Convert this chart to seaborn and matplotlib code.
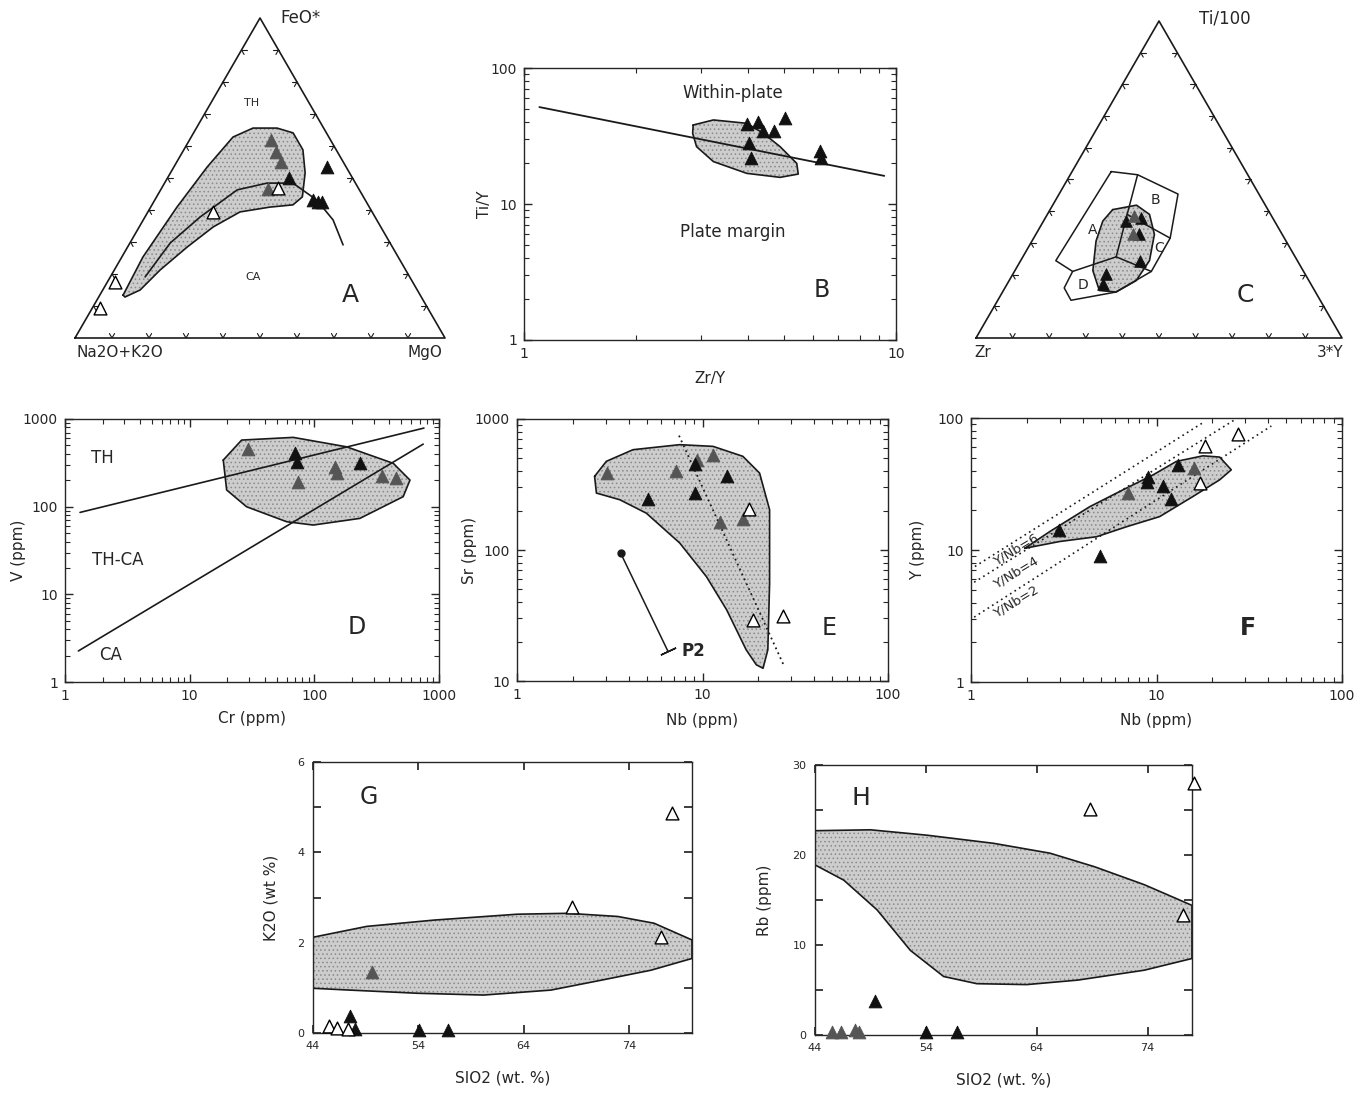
import numpy as np
import matplotlib
matplotlib.use("Agg")
import matplotlib.pyplot as plt
from matplotlib.ticker import NullFormatter
import seaborn as sns

sns.set_theme(style="ticks")
plt.rcParams["font.family"] = ["DejaVu Sans"]
plt.rcParams["hatch.linewidth"] = 0.6
plt.rcParams["axes.linewidth"] = 1.0

W, H = 1369, 1094
SQ = np.sqrt(3) / 2

# ---------------- data ----------------
# A : AFM ternary, values in % (FeO*, MgO); alkalis = remainder
a_feo_grey = [62, 58, 55, 46.6]
a_mgo_grey = [22, 25.3, 28.2, 28.9]
a_feo_black = [50, 53.4, 43.1, 42.5, 42.5]
a_mgo_black = [32.8, 41.4, 42.8, 44.4, 45.5]
a_feo_open = [46.9, 39.4, 17.5, 9.4]
a_mgo_open = [31.4, 17.6, 2.1, 2.1]
a_field_feo = [13.4, 25.3, 40.9, 53.4, 62.8, 65.6, 65.6, 64.1, 58.8, 51.6, 44.1,
               41.6, 40.9, 39.4, 34.7, 28.4, 21.3, 15.0, 12.8]
a_field_mgo = [6.3, 5.7, 7.1, 9.0, 11.3, 15.3, 21.8, 26.9, 32.2, 36.4, 39.4,
               38.1, 32.2, 24.9, 20.0, 16.1, 12.4, 10.1, 7.1]
a_curve_feo = [19.1, 29.7, 37.8, 46.3, 48.4, 48.4, 43.1, 36.9, 29.1]
a_curve_mgo = [9.4, 10.9, 14.9, 20.7, 27.7, 34.7, 43.8, 51.3, 57.9]

# B : Ti/Y vs Zr/Y
b_line_x = [1.1, 9.3]
b_line_y = [51.6, 16.1]
b_zry = [3.98, 4.26, 4.39, 4.7, 5.03, 4.03, 4.08, 6.25, 6.3]
b_tiy = [38.7, 40.0, 34.4, 34.4, 42.9, 28.1, 21.8, 24.5, 21.8]
b_field_x = [2.85, 3.23, 3.97, 4.4, 4.88, 5.41, 5.46, 4.88, 3.97, 3.23, 2.91, 2.84]
b_field_y = [38.1, 41.5, 39.2, 33.1, 26.4, 19.9, 16.6, 15.7, 16.8, 20.5, 26.4, 33.1]

# C : Ti/100 - Zr - 3*Y ternary, values in % (Ti, 3Y); Zr = remainder
c_outer_ti = [52.5, 51.5, 45.4, 31.5, 21.0, 14.5, 11.9, 15.8, 21.0, 24.4]
c_outer_y = [10.7, 18.4, 32.5, 37.3, 37.4, 31.0, 20.0, 16.2, 15.9, 9.6]
c_ab_ti = [51.5, 39.0, 25.6]
c_ab_y = [18.4, 21.8, 25.5]
c_ad_ti = [25.6, 21.0]
c_ad_y = [25.5, 15.9]
c_cd_ti = [25.6, 21.0]
c_cd_y = [25.5, 37.4]
c_bc_ti = [31.5, 39.0]
c_bc_y = [37.3, 21.8]
c_field_ti = [40.5, 41.9, 39.0, 32.7, 24.4, 18.1, 14.5, 15.0, 21.25, 30.6, 36.9]
c_field_y = [17.1, 22.9, 27.9, 32.4, 35.2, 34.7, 31.0, 26.2, 21.3, 17.5, 16.2]
c_ti_black = [36.9, 37.9, 24.4, 20.2, 17.1, 32.7]
c_y_black = [22.6, 26.2, 32.5, 25.4, 26.1, 28.3]
c_ti_grey = [32.7, 38.5]
c_y_grey = [26.5, 24.0]

# D : V vs Cr
d_th_x = [1.32, 757]
d_th_y = [86, 788]
d_ca_x = [1.28, 747]
d_ca_y = [2.26, 517]
d_cr_black = [69.9, 72, 232]
d_v_black = [405, 325, 311]
d_cr_grey = [29.2, 74.3, 146, 151, 347, 451]
d_v_grey = [450, 189, 285, 240, 223, 214]
d_field_x = [18.6, 26.1, 67.7, 181, 430, 585, 516, 232, 98, 60, 28.6, 19.8]
d_field_y = [340, 575, 617, 482, 312, 201, 130, 73.5, 61.7, 67.3, 99.8, 155]

# E : Sr vs Nb
e_nb_black = [5.08, 9.16, 13.5, 9.1]
e_sr_black = [245, 272, 365, 452]
e_nb_grey = [3.07, 7.17, 9.39, 11.4, 12.5, 16.5]
e_sr_grey = [387, 398, 490, 535, 163, 172]
e_nb_open = [17.8, 18.7, 27.2]
e_sr_open = [206, 29.3, 31.4]
e_field_x = [2.62, 3.03, 4.22, 7.54, 11.4, 16.5, 20.3, 23.0, 23.0, 22.5, 21.2, 19.5,
             17.2, 13.5, 10.5, 7.54, 4.98, 3.58, 2.68]
e_field_y = [365, 475, 583, 637, 618, 519, 387, 203, 55.8, 17.3, 12.5, 13.3,
             17.3, 34.9, 62.6, 113, 191, 242, 272]
e_trend_x = [7.47, 27.4]
e_trend_y = [747, 13.2]
e_p2_x = [3.62, 6.52]
e_p2_y = [94.7, 16.8]

# F : Y vs Nb
f_ratio_x = [[1.05, 18.2], [1.04, 26.4], [1.04, 41.6]]
f_ratio_y = [[7.5, 94], [5.7, 97], [3.1, 87]]
f_ratio_lbl = ["Y/Nb=6", "Y/Nb=4", "Y/Nb=2"]
f_nb_black = [2.99, 4.99, 9.0, 8.9, 10.9, 12.0, 13.1]
f_y_black = [14.2, 9.05, 36, 33, 30.6, 24.3, 44.2]
f_nb_grey = [7.03, 16.0]
f_y_grey = [26.9, 41.7]
f_nb_open = [18.2, 17.1, 27.5]
f_y_open = [61.6, 32.1, 75.5]
f_field_x = [1.95, 2.66, 4.37, 6.61, 9.59, 12.8, 17.8, 21.9, 25.3, 21.9, 15.7, 10.4,
             6.89, 4.75, 3.01]
f_field_y = [10.3, 13.8, 21.3, 28.6, 37.1, 46.9, 51.7, 50.6, 40.5, 34.0, 25.4, 17.9,
             15.0, 12.6, 11.6]

# G : K2O vs SiO2
g_si_black = [47.5, 48.0, 54.05, 56.8]
g_k_black = [0.37, 0.08, 0.06, 0.06]
g_si_grey = [49.6]
g_k_grey = [1.34]
g_si_open = [68.6, 77.1, 78.1, 45.5, 46.3, 47.3]
g_k_open = [2.8, 2.13, 4.87, 0.15, 0.1, 0.08]
g_field_x = [44, 49.1, 55.5, 63.4, 68.2, 72.95, 76.4, 80, 80, 76.1, 71.4, 66.6, 60.2,
             53.9, 47.5, 44]
g_field_y = [2.12, 2.36, 2.5, 2.63, 2.65, 2.58, 2.43, 2.06, 1.65, 1.39, 1.17, 0.95,
             0.84, 0.88, 0.95, 0.99]

# H : Rb vs SiO2
h_si_black = [49.4, 54.0, 56.8]
h_rb_black = [3.8, 0.3, 0.3]
h_si_grey = [45.5, 46.3, 47.6, 48.0]
h_rb_grey = [0.3, 0.3, 0.6, 0.3]
h_si_open = [78.15, 68.8, 77.2]
h_rb_open = [28.0, 25.1, 13.3]
h_field_x = [44, 49, 54.1, 60.1, 65.2, 69.2, 73.7, 78, 78, 73.7, 67.7, 63.1, 58.6,
             55.6, 52.6, 49.6, 46.6, 44]
h_field_y = [22.7, 22.8, 22.2, 21.3, 20.2, 18.7, 16.7, 14.4, 8.5, 7.2, 6.1, 5.6, 5.7,
             6.5, 9.4, 13.9, 17.2, 18.9]

BLACK = "#111111"
GREY = "#555555"


# ---------------- helpers ----------------
def px_axes(x0, y0, x1, y1):
    return fig.add_axes([x0 / W, 1 - y1 / H, (x1 - x0) / W, (y1 - y0) / H])


def tern(top, right):
    top = np.asarray(top, float) / 100
    right = np.asarray(right, float) / 100
    return right + top / 2, top * SQ


def field(ax, x, y):
    ax.fill(x, y, facecolor="#cdcdcd", edgecolor="#8a8a8a", hatch="....",
            lw=0, zorder=1)
    ax.plot(list(x) + [x[0]], list(y) + [y[0]], color="k", lw=1.2, zorder=2)


def pts(ax, x, y, kind, s=85):
    if kind == "open":
        kw = dict(color="white", edgecolor="black", linewidth=1.0)
    else:
        c = BLACK if kind == "black" else GREY
        kw = dict(color=c, edgecolor=c, linewidth=0.6)
    sns.scatterplot(x=x, y=y, marker="^", s=s, ax=ax, zorder=5, clip_on=False,
                    legend=False, **kw)


def labels(ax, xlabel, ylabel, xpos, ypos):
    # xpos / ypos: label centres in axes fractions
    ax.set_xlabel(xlabel, fontsize=11)
    ax.set_ylabel(ylabel, fontsize=11)
    ax.xaxis.set_label_coords(0.5, xpos)
    ax.yaxis.set_label_coords(ypos, 0.5)
    ax.xaxis.label.set_va("center")
    ax.yaxis.label.set_va("center")


def tern_frame(ax):
    ax.plot([0, 1, 0.5, 0], [0, 0, SQ, 0], color="k", lw=1.2, clip_on=False)
    L = 0.014
    dirs = {
        "left": ((1, 0), (0.5, -SQ)),
        "right": ((-1, 0), (-0.5, -SQ)),
        "bottom": ((0.5, SQ), (-0.5, SQ)),
    }
    for t in np.arange(0.1, 0.95, 0.1):
        bases = {"left": (t / 2, t * SQ), "right": (1 - t / 2, t * SQ), "bottom": (t, 0)}
        for k, (bx, by) in bases.items():
            for dx, dy in dirs[k]:
                ax.plot([bx, bx + L * dx], [by, by + L * dy], color="k", lw=0.8)
    ax.set_xlim(0, 1)
    ax.set_ylim(0, SQ)
    ax.axis("off")


def log_style(ax, xlim, ylim, xt, yt):
    ax.set_xscale("log")
    ax.set_yscale("log")
    ax.set_xlim(*xlim)
    ax.set_ylim(*ylim)
    ax.set_xticks(xt)
    ax.set_xticklabels([str(v) for v in xt])
    ax.set_yticks(yt)
    ax.set_yticklabels([str(v) for v in yt])
    ax.xaxis.set_minor_formatter(NullFormatter())
    ax.yaxis.set_minor_formatter(NullFormatter())
    ax.tick_params(which="both", direction="in", top=True, right=True, labelsize=10,
                   pad=5)
    ax.tick_params(which="major", length=6, width=1)
    ax.tick_params(which="minor", length=3.5, width=0.8)


fig = plt.figure(figsize=(W / 100, H / 100), dpi=100)

# ---------------- A ----------------
ax = px_axes(75, 18, 445, 338)
tern_frame(ax)
fx, fy = tern(a_field_feo, a_field_mgo)
field(ax, fx, fy)
cx, cy = tern(a_curve_feo, a_curve_mgo)
ax.plot(cx, cy, color="k", lw=1.2, zorder=3)
pts(ax, *tern(a_feo_grey, a_mgo_grey), "grey")
pts(ax, *tern(a_feo_black, a_mgo_black), "black")
pts(ax, *tern(a_feo_open, a_mgo_open), "open")
ax.text(0.555, 0.866, "FeO*", fontsize=12, va="center", ha="left")
ax.text(0.478, 0.636, "TH", fontsize=8, ha="center", va="center")
ax.text(0.481, 0.165, "CA", fontsize=8, ha="center", va="center")
ax.text(0.743, 0.116, "A", fontsize=18, ha="center", va="center")
ax.text(0.122, -0.04, "Na2O+K2O", fontsize=11, ha="center", va="center")
ax.text(0.946, -0.04, "MgO", fontsize=11, ha="center", va="center")

# ---------------- B ----------------
ax = px_axes(524, 68, 896, 340)
log_style(ax, (1, 10), (1, 100), [1, 10], [1, 10, 100])
field(ax, b_field_x, b_field_y)
ax.plot(b_line_x, b_line_y, color="k", lw=1.3, zorder=3)
pts(ax, b_zry, b_tiy, "black")
ax.text(3.65, 65.5, "Within-plate", fontsize=12, ha="center", va="center")
ax.text(3.65, 6.2, "Plate margin", fontsize=12, ha="center", va="center")
ax.text(6.3, 2.33, "B", fontsize=17, ha="center", va="center")
labels(ax, "Zr/Y", "Ti/Y", -0.14, -0.105)

# ---------------- C ----------------
ax = px_axes(976, 21, 1342, 338)
tern_frame(ax)
ox, oy = tern(c_outer_ti, c_outer_y)
ax.plot(list(ox) + [ox[0]], list(oy) + [oy[0]], color="k", lw=1.1)
for ti, yy in [(c_ab_ti, c_ab_y), (c_ad_ti, c_ad_y), (c_cd_ti, c_cd_y), (c_bc_ti, c_bc_y)]:
    ax.plot(*tern(ti, yy), color="k", lw=1.1)
field(ax, *tern(c_field_ti, c_field_y))
pts(ax, *tern(c_ti_black, c_y_black), "black", s=70)
pts(ax, *tern(c_ti_grey, c_y_grey), "grey", s=70)
ax.text(0.61, 0.874, "Ti/100", fontsize=12, ha="left", va="center")
for lbl, x, y in [("A", 0.32, 0.295), ("B", 0.489, 0.377), ("C", 0.5, 0.246),
                  ("D", 0.292, 0.145)]:
    ax.text(x, y, lbl, fontsize=10, ha="center", va="center", zorder=6)
ax.text(0.735, 0.117, "C", fontsize=18, ha="center", va="center")
ax.text(0.019, -0.04, "Zr", fontsize=11, ha="center", va="center")
ax.text(0.967, -0.04, "3*Y", fontsize=11, ha="center", va="center")

# ---------------- D ----------------
ax = px_axes(65, 419, 439, 682)
log_style(ax, (1, 1000), (1, 1000), [1, 10, 100, 1000], [1, 10, 100, 1000])
field(ax, d_field_x, d_field_y)
ax.plot(d_th_x, d_th_y, color="k", lw=1.2, zorder=3)
ax.plot(d_ca_x, d_ca_y, color="k", lw=1.2, zorder=3)
pts(ax, d_cr_grey, d_v_grey, "grey")
pts(ax, d_cr_black, d_v_black, "black")
ax.text(1.98, 358, "TH", fontsize=12, ha="center", va="center")
ax.text(2.64, 24.6, "TH-CA", fontsize=12, ha="center", va="center")
ax.text(2.34, 2.03, "CA", fontsize=12, ha="center", va="center")
ax.text(218, 4.28, "D", fontsize=17, ha="center", va="center")
labels(ax, "Cr (ppm)", "V (ppm)", -0.137, -0.125)

# ---------------- E ----------------
ax = px_axes(517, 419, 888, 681)
log_style(ax, (1, 100), (10, 1000), [1, 10, 100], [10, 100, 1000])
field(ax, e_field_x, e_field_y)
ax.plot(e_trend_x, e_trend_y, color="k", lw=1.3, ls=(0, (1, 2)), zorder=3)
ax.plot(e_p2_x, e_p2_y, color="k", lw=1.1, zorder=3)
ax.plot(e_p2_x[:1], e_p2_y[:1], "o", color="k", ms=5, zorder=4)
ax.plot(e_p2_x[1:], e_p2_y[1:], marker=(2, 2, 115), color="k", ms=12, mew=1.1, zorder=4)
ax.text(7.7, 16.8, "P2", fontsize=12, fontweight="bold", ha="left", va="center")
pts(ax, e_nb_grey, e_sr_grey, "grey")
pts(ax, e_nb_black, e_sr_black, "black")
pts(ax, e_nb_open, e_sr_open, "open")
ax.text(48.4, 25.4, "E", fontsize=17, ha="center", va="center")
labels(ax, "Nb (ppm)", "Sr (ppm)", -0.149, -0.127)

# ---------------- F ----------------
ax = px_axes(971, 418, 1342, 682)
log_style(ax, (1, 100), (1, 100), [1, 10, 100], [1, 10, 100])
for rx, ry in zip(f_ratio_x, f_ratio_y):
    ax.plot(rx, ry, color="k", lw=1.2, ls=(0, (1, 2.2)), zorder=3)
for lbl, yv in zip(f_ratio_lbl, [10.0, 6.7, 4.05]):
    ax.text(1.74, yv, lbl, fontsize=9.5, rotation=31, ha="center", va="center")
field(ax, f_field_x, f_field_y)
pts(ax, f_nb_grey, f_y_grey, "grey")
pts(ax, f_nb_black, f_y_black, "black")
pts(ax, f_nb_open, f_y_open, "open")
ax.text(31, 2.56, "F", fontsize=17, fontweight="bold", ha="center", va="center")
labels(ax, "Nb (ppm)", "Y (ppm)", -0.144, -0.143)

# ---------------- G ----------------
ax = px_axes(313, 762, 692, 1033)
ax.set_xlim(44, 80)
ax.set_ylim(0, 6)
field(ax, g_field_x, g_field_y)
pts(ax, g_si_grey, g_k_grey, "grey")
pts(ax, g_si_black, g_k_black, "black")
pts(ax, g_si_open, g_k_open, "open")
ax.set_xticks([44, 54, 64, 74])
ax.set_yticks(range(7))
ax.set_yticklabels(["0", "", "2", "", "4", "", "6"])
ax.tick_params(which="both", direction="in", top=True, right=True, labelsize=8, pad=6)
ax.tick_params(which="major", length=6)
ax.text(49.3, 5.23, "G", fontsize=17, ha="center", va="center")
labels(ax, "SIO2 (wt. %)", "K2O (wt %)", -0.166, -0.111)

# ---------------- H ----------------
ax = px_axes(815, 765, 1192, 1035)
ax.set_xlim(44, 78)
ax.set_ylim(0, 30)
field(ax, h_field_x, h_field_y)
pts(ax, h_si_grey, h_rb_grey, "grey")
pts(ax, h_si_black, h_rb_black, "black")
pts(ax, h_si_open, h_rb_open, "open")
ax.set_xticks([44, 54, 64, 74])
ax.set_yticks(range(0, 31, 5))
ax.set_yticklabels(["0", "", "10", "", "20", "", "30"])
ax.tick_params(which="both", direction="in", top=True, right=True, labelsize=8, pad=6)
ax.tick_params(which="major", length=6)
ax.text(48.1, 26.3, "H", fontsize=18, ha="center", va="center")
labels(ax, "SIO2 (wt. %)", "Rb (ppm)", -0.167, -0.133)

fig.savefig("out.png", dpi=100)
